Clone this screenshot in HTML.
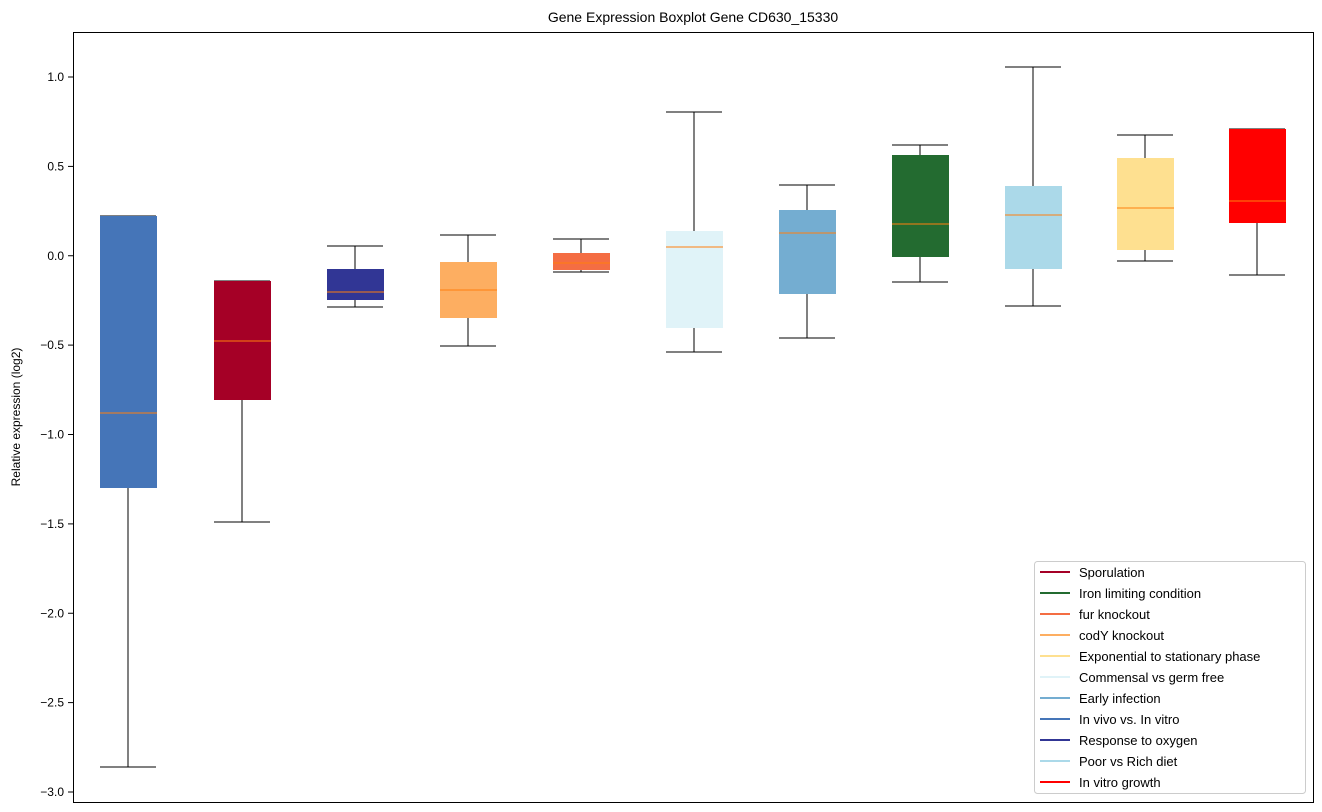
<!DOCTYPE html>
<html><head><meta charset="utf-8"><style>body{margin:0;background:#fff}svg{display:block;font-family:"Liberation Sans","DejaVu Sans",sans-serif}</style></head><body>
<svg width="1322" height="812" viewBox="0 0 1322 812">
<rect width="1322" height="812" fill="#fff"/>
<text x="693" y="22" font-size="14" text-anchor="middle">Gene Expression Boxplot Gene CD630_15330</text>
<g font-size="12" text-anchor="end">
<line x1="68" x2="73" y1="77" y2="77" stroke="#000"/><text x="64" y="81">1.0</text>
<line x1="68" x2="73" y1="166.4" y2="166.4" stroke="#000"/><text x="64" y="170.4">0.5</text>
<line x1="68" x2="73" y1="255.75" y2="255.75" stroke="#000"/><text x="64" y="259.75">0.0</text>
<line x1="68" x2="73" y1="345.1" y2="345.1" stroke="#000"/><text x="64" y="349.1">−0.5</text>
<line x1="68" x2="73" y1="434.5" y2="434.5" stroke="#000"/><text x="64" y="438.5">−1.0</text>
<line x1="68" x2="73" y1="523.9" y2="523.9" stroke="#000"/><text x="64" y="527.9">−1.5</text>
<line x1="68" x2="73" y1="613.25" y2="613.25" stroke="#000"/><text x="64" y="617.25">−2.0</text>
<line x1="68" x2="73" y1="702.6" y2="702.6" stroke="#000"/><text x="64" y="706.6">−2.5</text>
<line x1="68" x2="73" y1="792" y2="792" stroke="#000"/><text x="64" y="796">−3.0</text>
</g>
<text transform="translate(20,417) rotate(-90)" font-size="12" text-anchor="middle">Relative expression (log2)</text>
<g stroke="#000" stroke-width="1" fill="none">
<path d="M100 216H156M128 488V767M100 767H156"/>
<path d="M214 281H270M242 400V522M214 522H270"/>
<path d="M355 246V269M327 246H383M355 300V307M327 307H383"/>
<path d="M468 235V262M440 235H496M468 318V346M440 346H496"/>
<path d="M581 239V253M553 239H609M581 270V272M553 272H609"/>
<path d="M694 112V231M666 112H722M694 328V352M666 352H722"/>
<path d="M807 185V210M779 185H835M807 294V338M779 338H835"/>
<path d="M920 145V155M892 145H948M920 257V282M892 282H948"/>
<path d="M1033 67V186M1005 67H1061M1033 269V306M1005 306H1061"/>
<path d="M1145 135V158M1117 135H1173M1145 250V261M1117 261H1173"/>
<path d="M1229 129H1285M1257 223V275M1229 275H1285"/>
</g>
<g>
<rect x="100" y="216" width="57" height="272" fill="#4575b8"/>
<rect x="214" y="281" width="57" height="119" fill="#a50026"/>
<rect x="327" y="269" width="57" height="31" fill="#313695"/>
<rect x="440" y="262" width="57" height="56" fill="#fdae61"/>
<rect x="553" y="253" width="57" height="17" fill="#f46d43"/>
<rect x="666" y="231" width="57" height="97" fill="#e0f3f8"/>
<rect x="779" y="210" width="57" height="84" fill="#74add1"/>
<rect x="892" y="155" width="57" height="102" fill="#236b30"/>
<rect x="1005" y="186" width="57" height="83" fill="#abd9e9"/>
<rect x="1117" y="158" width="57" height="92" fill="#fee090"/>
<rect x="1229" y="129" width="57" height="94" fill="#ff0000"/>
</g>
<g stroke="#ff7f0e" stroke-width="1">
<path d="M100 413H157M214 341H271M327 292H384M440 290H497M553 263H610M666 247H723M779 233H836M892 224H949M1005 215H1062M1117 208H1174M1229 201H1286"/>
</g>
<rect x="73.5" y="32.5" width="1240" height="770" fill="none" stroke="#000"/>
<rect x="1034.5" y="561.5" width="271" height="232" rx="3" fill="#fff" fill-opacity="0.8" stroke="#ccc"/>
<g font-size="13" stroke-width="2">
<line x1="1040" x2="1070" y1="572" y2="572" stroke="#a50026"/><text x="1079" y="577">Sporulation</text>
<line x1="1040" x2="1070" y1="593" y2="593" stroke="#236b30"/><text x="1079" y="598">Iron limiting condition</text>
<line x1="1040" x2="1070" y1="614" y2="614" stroke="#f46d43"/><text x="1079" y="619">fur knockout</text>
<line x1="1040" x2="1070" y1="635" y2="635" stroke="#fdae61"/><text x="1079" y="640">codY knockout</text>
<line x1="1040" x2="1070" y1="656" y2="656" stroke="#fee090"/><text x="1079" y="661">Exponential to stationary phase</text>
<line x1="1040" x2="1070" y1="677" y2="677" stroke="#e0f3f8"/><text x="1079" y="682">Commensal vs germ free</text>
<line x1="1040" x2="1070" y1="698" y2="698" stroke="#74add1"/><text x="1079" y="703">Early infection</text>
<line x1="1040" x2="1070" y1="719" y2="719" stroke="#4575b8"/><text x="1079" y="724">In vivo vs. In vitro</text>
<line x1="1040" x2="1070" y1="740" y2="740" stroke="#313695"/><text x="1079" y="745">Response to oxygen</text>
<line x1="1040" x2="1070" y1="761" y2="761" stroke="#abd9e9"/><text x="1079" y="766">Poor vs Rich diet</text>
<line x1="1040" x2="1070" y1="782" y2="782" stroke="#ff0000"/><text x="1079" y="787">In vitro growth</text>
</g>
</svg>
</body></html>
